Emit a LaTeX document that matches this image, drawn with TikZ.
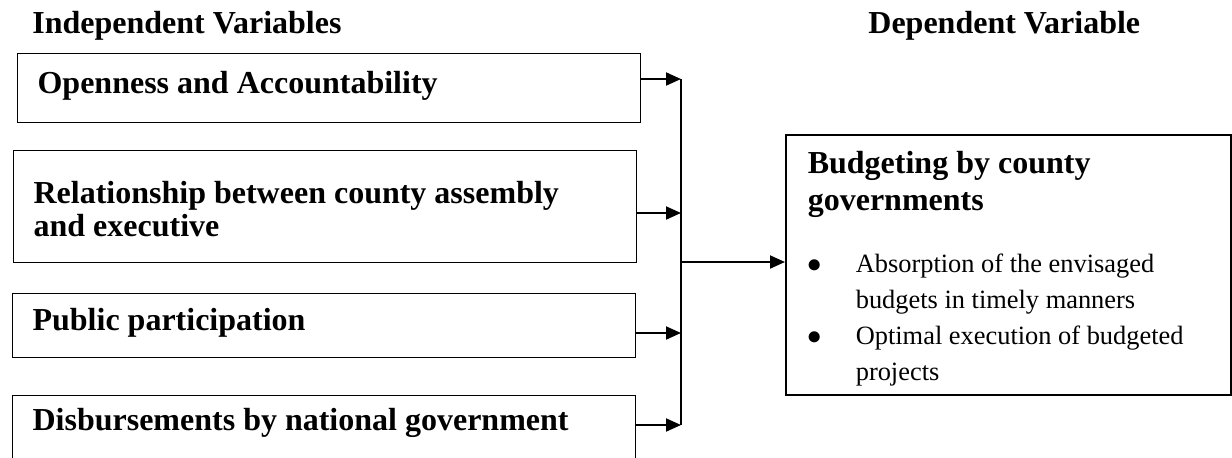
\documentclass[tikz,border=0pt]{standalone}
\usepackage{fontspec}
\setmainfont{Liberation Serif}
\usetikzlibrary{arrows.meta}

\begin{document}
\begin{tikzpicture}[x=0.5pt,y=-0.5pt]
\tikzstyle{every node}+=[inner sep=0pt]
\tikzstyle{headtext}=[anchor=base west,font=\bfseries\fontsize{16}{18.5}\selectfont]
\tikzstyle{varbox}=[draw=black,line width=0.6pt,anchor=north west,inner xsep=10pt,text width=291.5pt,align=flush left,text height=11pt,font=\bfseries\fontsize{16}{16.5}\selectfont]
\tikzstyle{link}=[black,line width=1pt,-{Triangle[length=7.5pt,width=6.5pt]}]
\useasboundingbox (0,0) rectangle (1232,457);
\node [headtext] (indep) at (32,33) {Independent Variables};
\node [headtext] (dep) at (868,33) {Dependent Variable};
\node [varbox,minimum height=34.5pt,text depth=5.5pt] (open) at (17,53) {Openness and Accountability};
\node [varbox,minimum height=56pt,text height=13.5pt] (rel) at (13,150) {Relationship between county assembly\\and executive};
\node [varbox,minimum height=32pt,text depth=6pt] (pub) at (12,293) {Public participation};
\node [varbox,minimum height=40pt,text depth=16pt] (disb) at (12,395) {Disbursements by national government};
\node [draw=black,line width=0.8pt,anchor=north west,inner xsep=11pt,text width=200.5pt,minimum height=130pt,align=flush left] (budget) at (785,134) {%
{\bfseries\fontsize{16}{18.5}\selectfont\rule{0pt}{15pt}Budgeting by county\\governments\par}
\vspace{12.75pt}
{\fontsize{13.2}{18}\selectfont
\makebox[24pt][l]{\fontsize{14}{14}\selectfont$\bullet$}Absorption of the envisaged\\
\hspace*{24pt}budgets in timely manners\\
\makebox[24pt][l]{\fontsize{14}{14}\selectfont$\bullet$}Optimal execution of budgeted\\
\hspace*{24pt}projects\par}};
\coordinate (j1) at (681,79);
\coordinate (j2) at (681,213);
\coordinate (j3) at (681,333);
\coordinate (j4) at (681,425);
\coordinate (jm) at (681,262);
\draw [black,line width=1pt] (j1) -- (j4);
\draw [link] (open.east |- j1) -- (j1);
\draw [link] (rel.east |- j2) -- (j2);
\draw [link] (pub.east |- j3) -- (j3);
\draw [link] (disb.east |- j4) -- (j4);
\draw [link] (jm) -- (jm -| budget.west);
\end{tikzpicture}
\end{document}
